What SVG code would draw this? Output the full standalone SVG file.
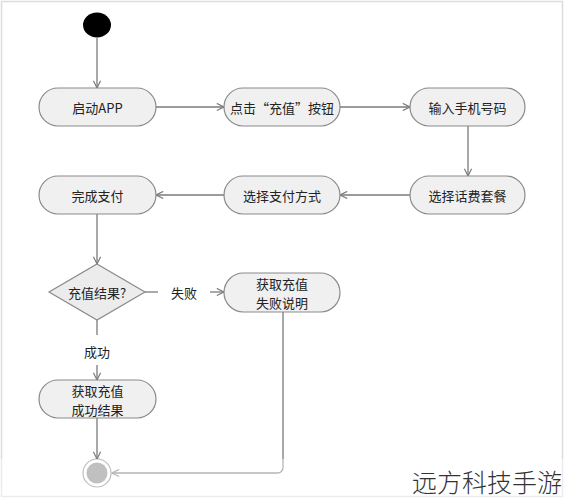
<svg xmlns="http://www.w3.org/2000/svg" width="565" height="500" viewBox="0 0 565 500">
<style>
.node rect{fill:#f0f0f0;stroke:#8a8a8a;stroke-width:1.2}
.node polygon{fill:#ececec;stroke:#8a8a8a;stroke-width:1.2}
text{font-family:"Noto Sans CJK SC","Noto Sans",sans-serif;font-size:13px;fill:#222;text-anchor:middle;dominant-baseline:central}
.edges path{fill:none;stroke:#7a7a7a;stroke-width:1.3}
</style>
<defs>
<marker id="arr" viewBox="0 0 10 10" refX="9" refY="5" markerWidth="9" markerHeight="9" markerUnits="userSpaceOnUse" orient="auto">
<path d="M1,1 L9,5 L1,9" fill="none" stroke="#7a7a7a" stroke-width="1.3"/>
</marker>
</defs>
<rect x="0" y="0" width="565" height="500" fill="#fff"/>
<rect x="1.5" y="1.5" width="561" height="495" fill="none" stroke="#dcdcdc" stroke-width="1.5"/>
<g class="edges">
<path d="M97,38 V88" marker-end="url(#arr)"/>
<path d="M156,107 H224" marker-end="url(#arr)"/>
<path d="M340,107 H410" marker-end="url(#arr)"/>
<path d="M468,126 V176" marker-end="url(#arr)"/>
<path d="M410,195 H340" marker-end="url(#arr)"/>
<path d="M224,195 H156" marker-end="url(#arr)"/>
<path d="M97,214 V264" marker-end="url(#arr)"/>
<path d="M145,292 H158"/>
<path d="M210,292 H224" marker-end="url(#arr)"/>
<path d="M97,320 V335"/>
<path d="M97,365 V380" marker-end="url(#arr)"/>
<path d="M97,418 V459" marker-end="url(#arr)"/>
<path d="M283,312 V467 Q283,473 277,473 H112" marker-end="url(#arr)"/>
<text x="184" y="292">失败</text>
<text x="97" y="351">成功</text>
</g>
<g id="start"><ellipse cx="97" cy="25" rx="14" ry="12.5" fill="#000"/></g>
<g id="n1" class="node"><rect x="39" y="88" width="117" height="38" rx="19"/><text x="97.5" y="107">启动APP</text></g>
<g id="n2" class="node"><rect x="224" y="88" width="116" height="38" rx="19"/><text x="282" y="107">点击“充值”按钮</text></g>
<g id="n3" class="node"><rect x="410" y="88" width="115" height="38" rx="19"/><text x="467.5" y="107">输入手机号码</text></g>
<g id="n4" class="node"><rect x="410" y="176" width="115" height="38" rx="19"/><text x="467.5" y="195">选择话费套餐</text></g>
<g id="n5" class="node"><rect x="224" y="176" width="116" height="38" rx="19"/><text x="282" y="195">选择支付方式</text></g>
<g id="n6" class="node"><rect x="39" y="176" width="117" height="38" rx="19"/><text x="97.5" y="195">完成支付</text></g>
<g id="d1" class="node"><polygon points="97,264 145,292 97,320 49,292"/><text x="97" y="292">充值结果?</text></g>
<g id="n7" class="node"><rect x="224" y="273" width="116" height="39" rx="19.5"/><text x="282" y="283">获取充值</text><text x="282" y="302">失败说明</text></g>
<g id="n8" class="node"><rect x="39" y="380" width="117" height="38" rx="19"/><text x="97.5" y="390">获取充值</text><text x="97.5" y="409">成功结果</text></g>
<g id="end"><circle cx="97" cy="473" r="14" fill="#fff" stroke="#8a8a8a" stroke-width="1.2"/><circle cx="97" cy="473" r="10.5" fill="#8c8c8c"/></g>
<rect x="0" y="459" width="565" height="41" fill="#fff" opacity="0.45"/>
<text x="562" y="481" style="font-size:25px;text-anchor:end;fill:#333;font-weight:300">远方科技手游</text>
</svg>
